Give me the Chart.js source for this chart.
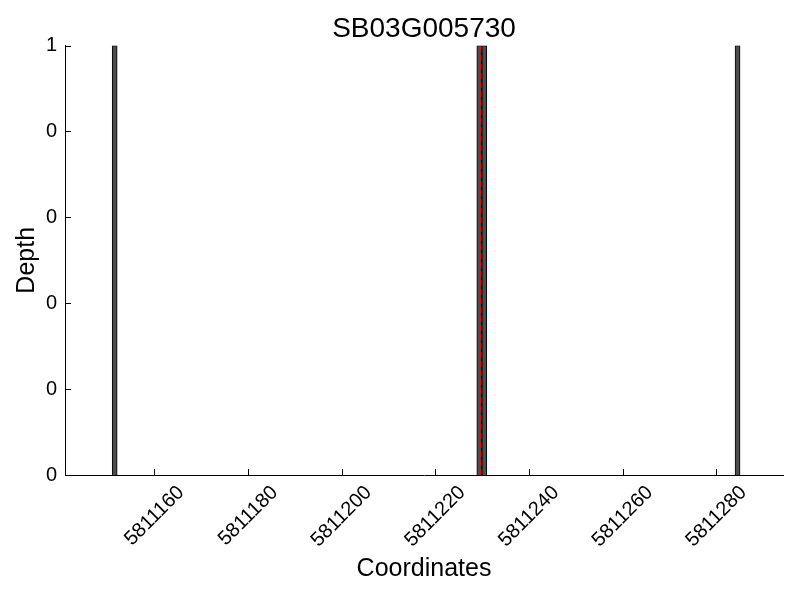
<!DOCTYPE html>
<html>
<head>
<meta charset="utf-8">
<script src="https://cdn.jsdelivr.net/npm/chart.js@4.4.1/dist/chart.umd.min.js"></script>
<style>
  body { margin: 0; background: #fff; }
  #wrap { width: 800px; height: 600px; }
</style>
</head>
<body>
<div id="wrap"><canvas id="depth-chart"></canvas></div>
<script>
const coordinates = [5811151.6, 5811229.4, 5811230.47, 5811284.5];
const depths = [1, 1, 1, 1];
const markerCoordinate = 5811229.6; // red dashed line
const xTicks = [5811160, 5811180, 5811200, 5811220, 5811240, 5811260, 5811280];
const yTicks = [0, 0.2, 0.4, 0.6, 0.8, 1];
const yTickLabels = ['0', '0', '0', '0', '0', '1'];
const xMin = 5811141.0;
const xMax = 5811294.2;

const FONT = "'Liberation Sans', Arial, sans-serif";

// matplotlib style ticks pointing into the plot
const inwardTicks = {
    id: 'inwardTicks',
    afterDraw(chart) {
        const ctx = chart.ctx;
        const x = chart.scales.x;
        const y = chart.scales.y;
        const area = chart.chartArea;
        ctx.save();
        ctx.strokeStyle = '#000';
        ctx.lineWidth = 1;
        ctx.beginPath();
        xTicks.forEach(v => {
            const px = Math.round(x.getPixelForValue(v)) + 0.5;
            ctx.moveTo(px, area.bottom);
            ctx.lineTo(px, area.bottom - 6);
        });
        yTicks.forEach(v => {
            const py = Math.round(y.getPixelForValue(v)) + 0.5;
            ctx.moveTo(area.left, py);
            ctx.lineTo(area.left + 6, py);
        });
        ctx.stroke();
        ctx.restore();
    }
};

const ctx = document.getElementById('depth-chart').getContext('2d');
new Chart(ctx, {
    data: {
        datasets: [
            {
                type: 'line',
                order: 0,
                data: [{ x: markerCoordinate, y: 0 }, { x: markerCoordinate, y: 1 }],
                borderColor: '#ff0000',
                borderWidth: 1.5,
                borderDash: [6, 3],
                pointRadius: 0
            },
            {
                type: 'bar',
                order: 1,
                data: coordinates.map((c, i) => ({ x: c, y: depths[i] })),
                backgroundColor: '#4d4d4d',
                borderColor: '#000',
                borderWidth: 1,
                barPercentage: 1,
                categoryPercentage: 1
            }
        ]
    },
    options: {
        responsive: true,
        maintainAspectRatio: false,
        animation: false,
        layout: { padding: { left: 0, right: 17, top: 0, bottom: 0 } },
        plugins: {
            legend: { display: false },
            tooltip: { enabled: false },
            title: {
                display: true,
                fullSize: false,
                text: 'SB03G005730',
                color: '#000',
                font: { family: FONT, size: 28, weight: 'normal' },
                padding: { top: 12, bottom: 0 }
            }
        },
        scales: {
            x: {
                type: 'linear',
                offset: false,
                min: xMin,
                max: xMax,
                afterBuildTicks: scale => { scale.ticks = xTicks.map(v => ({ value: v })); },
                afterFit: scale => { scale.height = 125; },
                grid: { display: false, drawTicks: false },
                border: { display: true, color: '#000', width: 1 },
                ticks: {
                    color: '#000',
                    font: { family: FONT, size: 20 },
                    minRotation: 45,
                    maxRotation: 45,
                    padding: 6,
                    labelOffset: 27,
                    callback: value => String(value)
                },
                title: {
                    display: true,
                    text: 'Coordinates',
                    color: '#000',
                    font: { family: FONT, size: 25 },
                    padding: { top: 0, bottom: 16 }
                }
            },
            y: {
                min: 0,
                max: 1,
                afterBuildTicks: scale => { scale.ticks = yTicks.map(v => ({ value: v })); },
                afterFit: scale => { scale.width = 65; },
                grid: { display: false, drawTicks: false },
                border: { display: true, color: '#000', width: 1 },
                ticks: {
                    color: '#000',
                    font: { family: FONT, size: 20 },
                    padding: 8,
                    callback: (value, index) => yTickLabels[index]
                },
                title: {
                    display: true,
                    text: 'Depth',
                    color: '#000',
                    font: { family: FONT, size: 25 },
                    padding: { top: 12, bottom: 0 }
                }
            }
        }
    },
    plugins: [inwardTicks]
});
</script>
</body>
</html>
